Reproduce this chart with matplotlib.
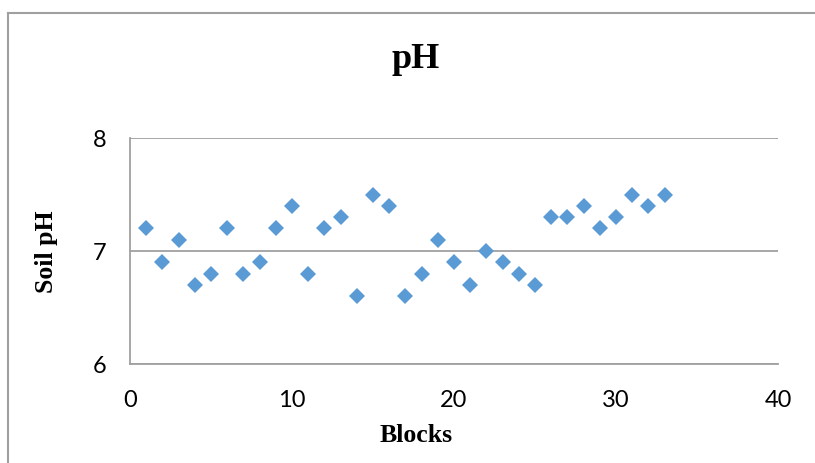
import matplotlib.pyplot as plt
from matplotlib.lines import Line2D

# soil pH per block
blocks = list(range(1, 34))
soil_ph = [7.2, 6.9, 7.1, 6.7, 6.8, 7.2, 6.8, 6.9, 7.2, 7.4,
           6.8, 7.2, 7.3, 6.6, 7.5, 7.4, 6.6, 6.8, 7.1, 6.9,
           6.7, 7.0, 6.9, 6.8, 6.7, 7.3, 7.3, 7.4, 7.2, 7.3,
           7.5, 7.4, 7.5]
x_ticks = [0, 10, 20, 30, 40]
y_ticks = [6, 7, 8]

fig = plt.figure(figsize=(8.15, 4.64), dpi=100)
ax = fig.add_axes([130/815, 1 - 365/464, 648/815, 226/464])

ax.plot(blocks, soil_ph, linestyle="none", marker="D", markersize=8,
        color="#5B9BD5", markeredgewidth=0)

ax.set_xlim(0, 40)
ax.set_ylim(6, 8)
ax.set_xticks(x_ticks)
ax.set_yticks(y_ticks)
ax.tick_params(length=0, labelsize=17)
ax.tick_params(axis="x", pad=18)
ax.tick_params(axis="y", pad=17)
for lab in ax.get_xticklabels() + ax.get_yticklabels():
    lab.set_family("Lato")
ax.yaxis.grid(True, color="#A0A0A0", linewidth=1.3)
ax.set_axisbelow(True)
for s in ["top", "right"]:
    ax.spines[s].set_visible(False)
for s in ["left", "bottom"]:
    ax.spines[s].set_color("#A0A0A0")
    ax.spines[s].set_linewidth(1.3)

serif = dict(family="Liberation Serif", fontweight="bold")
fig.text(416/815, 1 - 60/464, "pH", ha="center", va="center", fontsize=26, **serif)
fig.text(46/815, 1 - 252/464, "Soil pH", ha="center", va="center", rotation=90,
         fontsize=18.5, **serif)
fig.text(416/815, 1 - 436/464, "Blocks", ha="center", va="center", fontsize=18.5, **serif)

# chart border (left and top only visible)
fig.add_artist(Line2D([7.5/815, 7.5/815], [0, 1 - 13.5/464], transform=fig.transFigure,
                      color="#A0A0A0", linewidth=1.5))
fig.add_artist(Line2D([7.5/815, 1], [1 - 13.5/464, 1 - 13.5/464], transform=fig.transFigure,
                      color="#A0A0A0", linewidth=1.5))

fig.savefig("out.png", dpi=100)
